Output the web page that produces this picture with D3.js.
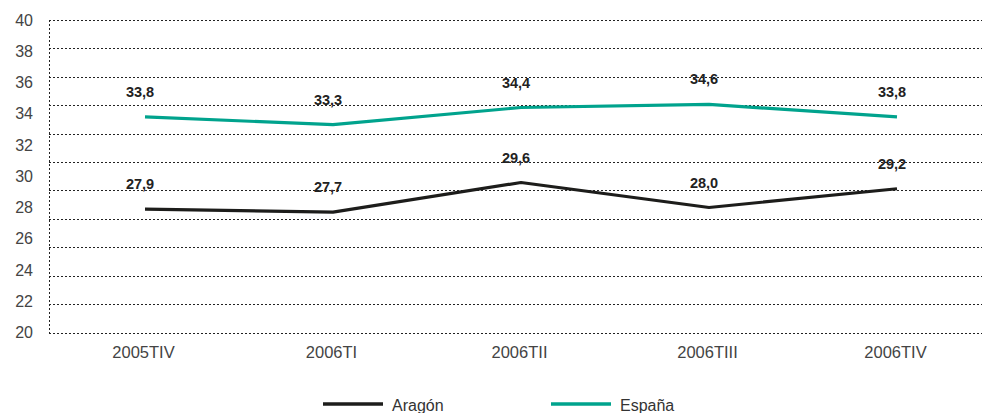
<!DOCTYPE html>
<html><head><meta charset="utf-8">
<script src="https://cdn.jsdelivr.net/npm/d3@7/dist/d3.min.js"></script>
<style>
html,body{margin:0;padding:0;background:#fff;}
svg{display:block;font-family:"Liberation Sans",Arial,Helvetica,sans-serif;}
</style></head><body>
<svg id="c" width="982" height="413"></svg>
<script>
const categories = ["2005TIV","2006TI","2006TII","2006TIII","2006TIV"];
const aragon = [27.9, 27.7, 29.6, 28.0, 29.2];
const espana = [33.8, 33.3, 34.4, 34.6, 33.8];
const yTicks = [20,22,24,26,28,30,32,34,36,38,40];
const seriesNames = ["Aragón","España"];
const colors = ["#1d1d1b","#00a38d"];

const svg = d3.select("#c");
const mLeft = 49, mRight = 982, mTop = 20, mBottom = 332.5;

const x = d3.scalePoint().domain(categories).range([145, 897]);
const y = d3.scaleLinear().domain([20, 40]).range([mBottom, mTop]);
// gridlines in the reference are 12 evenly spaced dotted rules
const gridIdx = d3.range(12);
const g = d3.scaleLinear().domain([0, 11]).range([mBottom, mTop]);

svg.append("g").selectAll("line").data(gridIdx).join("line")
  .attr("x1", mLeft).attr("x2", mRight)
  .attr("y1", d => Math.round(g(d)) + 0.5).attr("y2", d => Math.round(g(d)) + 0.5)
  .attr("stroke", "#222").attr("stroke-width", 1).attr("stroke-dasharray", "2,2");

svg.append("line").attr("x1", mLeft + 0.5).attr("x2", mLeft + 0.5)
  .attr("y1", mTop).attr("y2", mBottom + 1)
  .attr("stroke", "#222").attr("stroke-width", 1).attr("stroke-dasharray", "2,2");

// y tick labels
const yAxis = d3.axisLeft(y).tickValues(yTicks).tickSize(0).tickPadding(0);
const ya = svg.append("g").attr("transform", `translate(33,0)`).call(yAxis);
ya.select(".domain").remove();
ya.selectAll("text").attr("font-size", 16).attr("fill", "#444")
  .attr("font-family", "'Liberation Sans',Arial,sans-serif");

// x tick labels
const xAxis = d3.axisBottom(x).tickSize(0).tickPadding(0);
const xa = svg.append("g").attr("transform", `translate(-2,346)`).call(xAxis);
xa.select(".domain").remove();
xa.selectAll("text").attr("font-size", 16.5).attr("fill", "#444")
  .attr("font-family", "'Liberation Sans',Arial,sans-serif");

const series = [aragon, espana];
const line = d3.line().x((d, i) => x(categories[i])).y(d => y(d));

series.forEach((vals, si) => {
  svg.append("path").datum(vals).attr("d", line)
    .attr("fill", "none").attr("stroke", colors[si]).attr("stroke-width", 3.2)
    .attr("stroke-linejoin", "round");
  svg.append("g").selectAll("text").data(vals).join("text")
    .attr("x", (d, i) => x(categories[i]) - 5)
    .attr("y", d => y(d) - 20)
    .attr("text-anchor", "middle")
    .attr("font-size", 14.5).attr("font-weight", "bold").attr("fill", "#222")
    .text(d => d.toFixed(1).replace(".", ","));
});

// legend
const legendX = [323, 551];
seriesNames.forEach((name, i) => {
  svg.append("line").attr("x1", legendX[i]).attr("x2", legendX[i] + 60)
    .attr("y1", 404).attr("y2", 404)
    .attr("stroke", colors[i]).attr("stroke-width", 3.5);
  svg.append("text").attr("x", legendX[i] + 69).attr("y", 411)
    .attr("font-size", 16).attr("fill", "#333").text(name);
});
</script>
</body></html>
